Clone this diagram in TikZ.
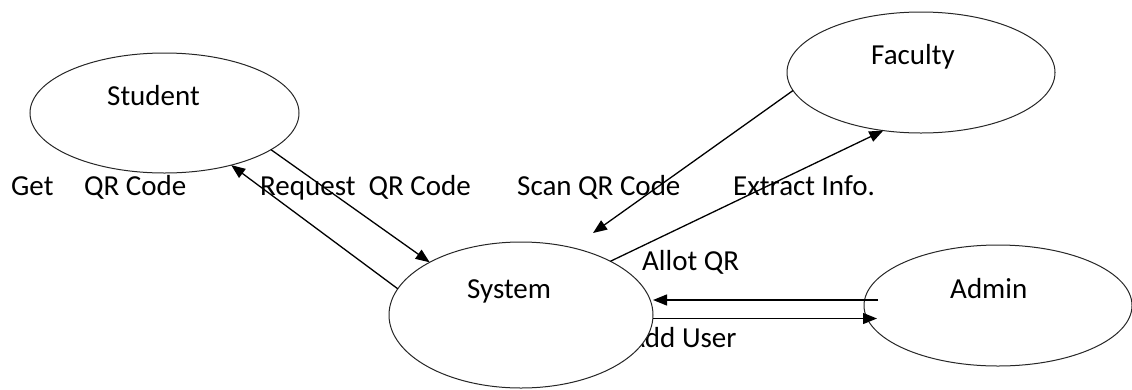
\documentclass[tikz,border=0pt]{standalone}
\usepackage{fontspec}
\setmainfont{Carlito}
\usetikzlibrary{arrows.meta,shapes.geometric}
\begin{document}
\begin{tikzpicture}[x=1pt,y=-1pt,
  ent/.style={draw=black!85,line width=1pt,ellipse,fill=white,inner sep=0pt,outer sep=0pt},
  lbl/.style={anchor=base west,inner sep=0pt,font=\fontsize{29}{34}\selectfont,text=black},
  flow/.style={line width=1.3pt,-{Triangle[length=14pt,width=11pt]}}]
\useasboundingbox (0,0) rectangle (1132,389);
% label partly hidden behind the System ellipse
\node[lbl] (addL) at (628,347) {Add User};
% entities
\node[ent,minimum width=269pt,minimum height=120pt] (stu) at (164.5,113) {};
\node[ent,minimum width=268pt,minimum height=121pt] (fac) at (921,72.5) {};
\node[ent,minimum width=264pt,minimum height=146pt] (sys) at (521,315) {};
\node[ent,minimum width=268pt,minimum height=121pt] (adm) at (998,305.5) {};
% entity names
\node[lbl] (stuT) at (107,105) {Student};
\node[lbl] (facT) at (871,64) {Faculty};
\node[lbl] (sysT) at (467,298) {System};
\node[lbl] (admT) at (950,298) {Admin};
% flow labels
\node[lbl] (getL) at (11,195) {Get\hspace{24pt} QR Code};
\node[lbl] (reqL) at (260,195) {Request\ \ QR Code};
\node[lbl] (scanL) at (517,195) {Scan QR Code};
\node[lbl] (extL) at (733,195) {Extract Info.};
\node[lbl] (allotL) at (642,270) {Allot QR};
% connectors
\coordinate (scanEnd) at (593,233);
\draw[flow] (stu.-19.6) -- (sys.150.3);
\draw[flow] (sys.168.3) -- (stu.-38.2);
\draw[flow] (fac.188.2) -- (scanEnd);
\draw[flow] (sys.31) -- (fac.-123.2);
\draw[flow] ([xshift=14pt,yshift=5.5pt]adm.west) -- ([yshift=15pt]sys.east);
\draw[flow] ([yshift=-3.5pt]sys.east) -- ([xshift=13pt,yshift=-13pt]adm.west);
\end{tikzpicture}
\end{document}
